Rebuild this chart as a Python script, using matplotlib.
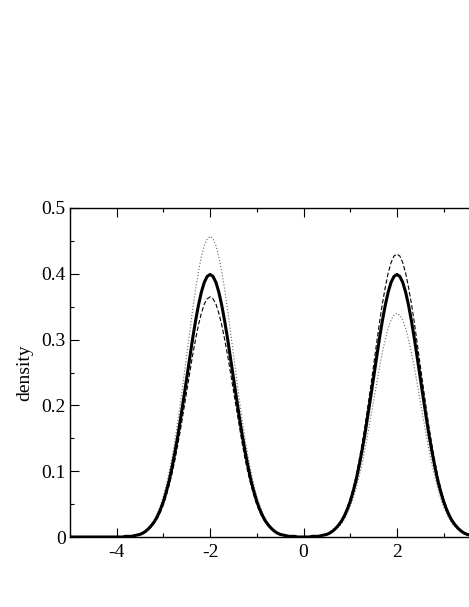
import matplotlib
matplotlib.use('Agg')
import numpy as np
import matplotlib.pyplot as plt
from matplotlib.ticker import MultipleLocator

# x grid: -5, then -4 .. 4 in steps of 0.0625, then 5
x = [-5.0] + list(np.linspace(-4.0, 4.0, 129)) + [5.0]

# densities, one value per grid point
solid = ([0.0] +
         [0.000, 0.000, 0.000, 0.001, 0.001, 0.001, 0.002, 0.003, 0.004, 0.006, 0.009,
          0.013, 0.018, 0.024, 0.032, 0.042, 0.054, 0.069, 0.086, 0.107, 0.130, 0.155,
          0.183, 0.212, 0.242, 0.272, 0.301, 0.328, 0.352, 0.372, 0.387, 0.396, 0.399] +
         [0.396, 0.387, 0.372, 0.352, 0.328, 0.301, 0.272, 0.242, 0.212, 0.183, 0.155,
          0.130, 0.107, 0.086, 0.069, 0.054, 0.042, 0.032, 0.024, 0.018, 0.013, 0.009,
          0.006, 0.004, 0.003, 0.002, 0.001, 0.001, 0.001, 0.000, 0.000, 0.000] +
         [0.000, 0.000, 0.001, 0.001, 0.001, 0.002, 0.003, 0.004, 0.006, 0.009, 0.013,
          0.018, 0.024, 0.032, 0.042, 0.054, 0.069, 0.086, 0.107, 0.130, 0.155, 0.183,
          0.212, 0.242, 0.272, 0.301, 0.328, 0.352, 0.372, 0.387, 0.396, 0.399] +
         [0.396, 0.387, 0.372, 0.352, 0.328, 0.301, 0.272, 0.242, 0.212, 0.183, 0.155,
          0.130, 0.107, 0.086, 0.069, 0.054, 0.042, 0.032, 0.024, 0.018, 0.013, 0.009,
          0.006, 0.004, 0.003, 0.002, 0.001, 0.001, 0.001, 0.000, 0.000, 0.000] +
         [0.0])

dashed = ([0.0] +
          [0.000, 0.000, 0.000, 0.001, 0.001, 0.001, 0.002, 0.003, 0.004, 0.006, 0.008,
           0.012, 0.016, 0.022, 0.029, 0.038, 0.049, 0.063, 0.079, 0.097, 0.118, 0.142,
           0.167, 0.194, 0.221, 0.249, 0.276, 0.300, 0.322, 0.340, 0.354, 0.362, 0.365] +
          [0.362, 0.354, 0.340, 0.322, 0.300, 0.276, 0.249, 0.221, 0.194, 0.167, 0.142,
           0.118, 0.097, 0.079, 0.063, 0.049, 0.038, 0.029, 0.022, 0.016, 0.012, 0.008,
           0.006, 0.004, 0.003, 0.002, 0.001, 0.001, 0.001, 0.000, 0.000, 0.000] +
          [0.000, 0.000, 0.001, 0.001, 0.001, 0.002, 0.003, 0.005, 0.007, 0.010, 0.014,
           0.019, 0.026, 0.034, 0.045, 0.058, 0.074, 0.093, 0.115, 0.140, 0.167, 0.197,
           0.228, 0.261, 0.293, 0.325, 0.354, 0.379, 0.401, 0.417, 0.427, 0.430] +
          [0.427, 0.417, 0.401, 0.379, 0.354, 0.325, 0.293, 0.261, 0.228, 0.197, 0.167,
           0.140, 0.115, 0.093, 0.074, 0.058, 0.045, 0.034, 0.026, 0.019, 0.014, 0.010,
           0.007, 0.005, 0.003, 0.002, 0.001, 0.001, 0.001, 0.000, 0.000, 0.000] +
          [0.0])

dotted = ([0.0] +
          [0.000, 0.000, 0.000, 0.001, 0.001, 0.002, 0.002, 0.003, 0.005, 0.007, 0.010,
           0.015, 0.020, 0.027, 0.036, 0.048, 0.062, 0.079, 0.099, 0.122, 0.148, 0.178,
           0.209, 0.243, 0.277, 0.312, 0.345, 0.376, 0.403, 0.426, 0.443, 0.453, 0.457] +
          [0.453, 0.443, 0.426, 0.403, 0.376, 0.345, 0.312, 0.277, 0.243, 0.209, 0.178,
           0.148, 0.122, 0.099, 0.079, 0.062, 0.048, 0.036, 0.027, 0.020, 0.015, 0.010,
           0.007, 0.005, 0.003, 0.002, 0.002, 0.001, 0.001, 0.000, 0.000, 0.000] +
          [0.000, 0.000, 0.000, 0.001, 0.001, 0.002, 0.003, 0.004, 0.005, 0.008, 0.011,
           0.015, 0.020, 0.027, 0.036, 0.046, 0.059, 0.074, 0.091, 0.110, 0.132, 0.156,
           0.181, 0.206, 0.232, 0.257, 0.280, 0.300, 0.317, 0.330, 0.337, 0.340] +
          [0.337, 0.330, 0.317, 0.300, 0.280, 0.257, 0.232, 0.206, 0.181, 0.156, 0.132,
           0.110, 0.091, 0.074, 0.059, 0.046, 0.036, 0.027, 0.020, 0.015, 0.011, 0.008,
           0.005, 0.004, 0.003, 0.002, 0.001, 0.001, 0.000, 0.000, 0.000, 0.000] +
          [0.0])

x_ticks = [-4, -2, 0, 2, 4]
x_tick_labels = ['-4', '-2', '0', '2', '']   # 4 falls outside the cropped picture
y_ticks = [0, 0.1, 0.2, 0.3, 0.4, 0.5]
y_tick_labels = ['0', '0.1', '0.2', '0.3', '0.4', '0.5']

plt.rcParams['font.family'] = ['Liberation Serif', 'DejaVu Serif']
plt.rcParams['axes.unicode_minus'] = False

fig = plt.figure(figsize=(4.69, 6.07), dpi=100)
# the reference is cropped on the right, so the axes run past the figure edge
ax = fig.add_axes([70 / 469, 70 / 607, 467 / 469, 329 / 607])

ax.plot(x, dotted, color='#666666', lw=0.8, linestyle=(0, (1, 1.8)))
ax.plot(x, dashed, color='black', lw=0.8, linestyle=(0, (4, 2)))
ax.plot(x, solid, color='black', lw=2.2, solid_joinstyle='round')

ax.set_xlim(-5, 5)
ax.set_ylim(0, 0.5)
ax.set_xticks(x_ticks)
ax.set_xticklabels(x_tick_labels)
ax.set_yticks(y_ticks)
ax.set_yticklabels(y_tick_labels)
ax.xaxis.set_minor_locator(MultipleLocator(1))
ax.yaxis.set_minor_locator(MultipleLocator(0.05))

ax.tick_params(which='both', direction='in', top=True, right=True,
               labelsize=14, width=0.8)
ax.tick_params(which='major', length=6.5)
ax.tick_params(which='minor', length=2.8)
ax.tick_params(axis='x', which='major', pad=5)
ax.tick_params(axis='y', which='major', pad=3)
for s in ax.spines.values():
    s.set_linewidth(1.0)

ax.set_ylabel('density', fontsize=14, labelpad=6)

fig.savefig('out.png', dpi=100)
plt.close(fig)
